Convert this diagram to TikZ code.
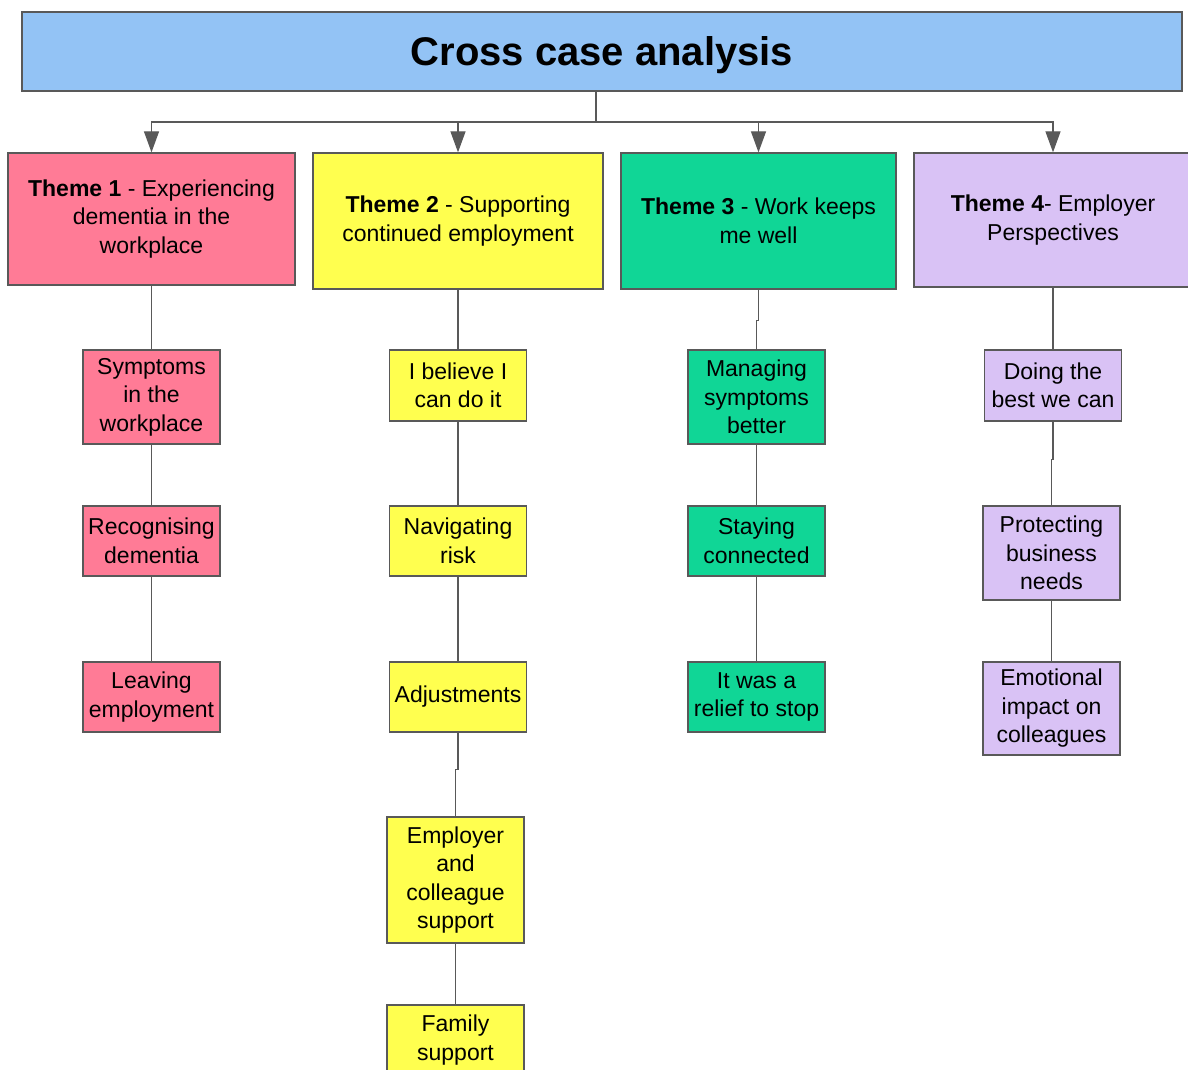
\documentclass[tikz,border=0pt]{standalone}
\usepackage{fontspec}
\setmainfont{Liberation Sans}
\usetikzlibrary{arrows.meta}
\definecolor{linegray}{HTML}{595959}
\definecolor{titleblue}{HTML}{93C3F5}
\definecolor{pinkc}{HTML}{FF7B96}
\definecolor{yellowc}{HTML}{FFFF4F}
\definecolor{greenc}{HTML}{10D696}
\definecolor{lavc}{HTML}{D9C2F5}
\tikzset{
  box/.style={draw=linegray, line width=1.3pt, align=center, inner sep=0pt,
    font=\fontsize{23}{28.5}\selectfont},
  conn/.style={draw=linegray, line width=1.3pt},
  arr/.style={conn, -{Triangle[width=15pt,length=21pt]}},
}
\begin{document}
\begin{tikzpicture}[x=1pt,y=-1pt]
\useasboundingbox (0,0) rectangle (1188,1070);
\clip (0,0) rectangle (1188,1070);
% title
\node[box, fill=titleblue, minimum width=1160pt, minimum height=79pt,
  text height=37pt, text depth=8pt,
  font=\fontsize{40}{44}\selectfont\bfseries] (title) at (602,51.5) {Cross case analysis};
% themes
\node[box, fill=pinkc, minimum width=287pt, minimum height=132pt] (t1) at (151.5,219)
  {\textbf{Theme 1} - Experiencing\\dementia in the\\workplace};
\node[box, fill=yellowc, minimum width=290pt, minimum height=136pt] (t2) at (458,221)
  {\textbf{Theme 2} - Supporting\\continued employment};
\node[box, fill=greenc, minimum width=275pt, minimum height=136pt] (t3) at (758.5,221)
  {\textbf{Theme 3} - Work keeps\\me well};
\node[box, fill=lavc, minimum width=278pt, minimum height=134pt] (t4) at (1053,220)
  {\textbf{Theme 4}- Employer\\Perspectives};
% column 1
\node[box, fill=pinkc, minimum width=137pt, minimum height=94pt] (a1) at (151.5,397)
  {Symptoms\\in the\\workplace};
\node[box, fill=pinkc, minimum width=137pt, minimum height=70pt] (a2) at (151.5,541)
  {Recognising\\dementia};
\node[box, fill=pinkc, minimum width=137pt, minimum height=70pt] (a3) at (151.5,697)
  {Leaving\\employment};
% column 2
\node[box, fill=yellowc, minimum width=137pt, minimum height=71pt] (b1) at (458,385.5)
  {I believe I\\can do it};
\node[box, fill=yellowc, minimum width=137pt, minimum height=70pt] (b2) at (458,541)
  {Navigating\\risk};
\node[box, fill=yellowc, minimum width=137pt, minimum height=70pt] (b3) at (458,697)
  {Adjustments};
\node[box, fill=yellowc, minimum width=137pt, minimum height=126pt] (b4) at (455.5,880)
  {Employer\\and\\colleague\\support};
\node[box, fill=yellowc, minimum width=137pt, minimum height=70pt] (b5) at (455.5,1040)
  {Family\\support};
% column 3
\node[box, fill=greenc, minimum width=137pt, minimum height=94pt] (c1) at (756.5,397)
  {Managing\\symptoms\\better};
\node[box, fill=greenc, minimum width=137pt, minimum height=70pt] (c2) at (756.5,541)
  {Staying\\connected};
\node[box, fill=greenc, minimum width=137pt, minimum height=70pt] (c3) at (756.5,697)
  {It was a\\relief to stop};
% column 4
\node[box, fill=lavc, minimum width=137pt, minimum height=71pt] (d1) at (1053,385.5)
  {Doing the\\best we can};
\node[box, fill=lavc, minimum width=137pt, minimum height=94pt] (d2) at (1051.5,553)
  {Protecting\\business\\needs};
\node[box, fill=lavc, minimum width=137pt, minimum height=93pt] (d3) at (1051.5,708.5)
  {Emotional\\impact on\\colleagues};
% title to themes
\coordinate (hub) at (596,122);
\draw[conn] (hub |- title.south) -- (hub);
\draw[arr] (hub) -| (t1.north);
\draw[arr] (hub) -| (t2.north);
\draw[arr] (hub) -| (t3.north);
\draw[arr] (hub) -| (t4.north);
% column links
\draw[conn] (t1.south) -- (a1.north);
\draw[conn] (a1.south) -- (a2.north);
\draw[conn] (a2.south) -- (a3.north);
\draw[conn] (t2.south) -- (b1.north);
\draw[conn] (b1.south) -- (b2.north);
\draw[conn] (b2.south) -- (b3.north);
\draw[conn] (b3.south) -- ++(0,37) -| (b4.north);
\draw[conn] (b4.south) -- (b5.north);
\draw[conn] (t3.south) -- ++(0,31) -| (c1.north);
\draw[conn] (c1.south) -- (c2.north);
\draw[conn] (c2.south) -- (c3.north);
\draw[conn] (t4.south) -- (d1.north);
\draw[conn] (d1.south) -- ++(0,38) -| (d2.north);
\draw[conn] (d2.south) -- (d3.north);
\end{tikzpicture}
\end{document}
